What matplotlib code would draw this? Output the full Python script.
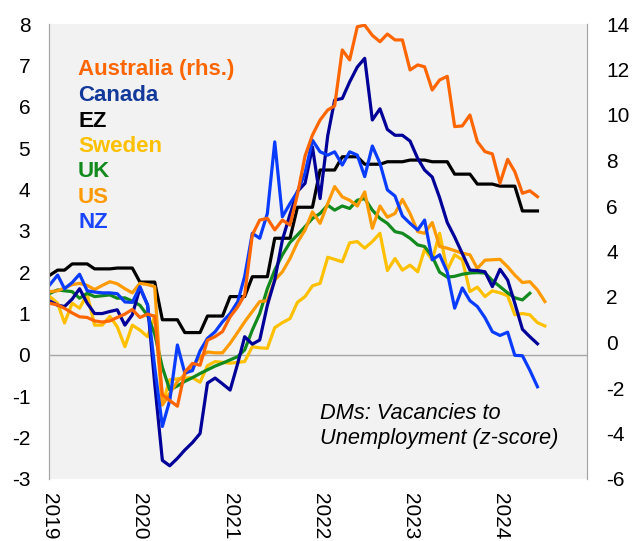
import matplotlib
matplotlib.use("Agg")
import matplotlib.pyplot as plt
import pandas as pd
from datetime import datetime

plt.rcParams['font.family'] = ['Liberation Sans', 'DejaVu Sans']
plt.rcParams['axes.unicode_minus'] = False

# monthly z-scores, Jan 2019 onwards
australia = [1.72, 1.65, 1.5, 1.3, 1.13, 1.1, 0.95, 0.9, 0.95, 1.1, 1.25, 1.45, 1.1, 1.25, 1.15,
             -2.3, -2.55, -2.8, -1.3, -0.92, -1.0, 0.1, 0.26, 0.48, 1.13, 1.57, 2.1,
             4.73, 5.38, 5.46, 4.95, 5.38, 5.16, 6.5, 8.2, 9.12, 9.78, 10.22, 10.4,
             12.86, 12.42, 13.88, 13.95, 13.5, 13.22, 13.56, 13.3, 13.3, 11.98, 12.2, 12.12,
             11.1, 11.54, 11.7, 9.49, 9.52, 10.0, 8.83, 8.39, 8.29, 7.0, 8.05, 7.51, 6.56, 6.67, 6.41]
canada = [1.3, 1.2, 1.17, 1.35, 1.6, 1.25, 1.0, 1.0, 1.05, 1.09, 0.72, 0.97, 1.62, 1.21, -0.7,
          -2.55, -2.68, -2.5, -2.3, -2.12, -1.9, -0.68, -0.56, -0.7, -0.85, -0.2, 0.44,
          0.26, 0.36, 1.2, 1.81, 2.78, 3.4, 3.95, 4.15, 5.03, 3.78, 5.3, 6.16,
          6.2, 6.6, 6.96, 7.17, 5.68, 5.95, 5.45, 5.31, 5.31, 5.17, 4.75, 4.47,
          4.3, 3.8, 3.2, 2.85, 2.45, 2.05, 2.04, 2.01, 1.65, 2.07, 1.81, 1.25, 0.62, 0.44, 0.27]
ez = [1.93, 2.05, 2.05, 2.2, 2.2, 2.2, 2.08, 2.08, 2.08, 2.1, 2.1, 2.1, 1.76, 1.76, 1.76,
      0.85, 0.85, 0.85, 0.54, 0.54, 0.54, 0.94, 0.94, 0.94, 1.41, 1.41, 1.41,
      1.89, 1.89, 1.89, 2.82, 2.82, 2.82, 3.57, 3.57, 3.57, 4.47, 4.47, 4.47,
      4.79, 4.79, 4.79, 4.61, 4.61, 4.61, 4.67, 4.67, 4.67, 4.71, 4.71, 4.71,
      4.67, 4.67, 4.67, 4.37, 4.37, 4.37, 4.13, 4.13, 4.13, 4.08, 4.08, 4.08, 3.48, 3.48, 3.48]
sweden = [1.41, 1.25, 0.77, 1.25, 1.13, 1.47, 0.72, 0.72, 0.93, 0.68, 0.2, 0.72, 0.6, 0.44, 0.95,
          -1.2, -0.6, -0.58, -0.56, -0.55, -0.66, -0.26, -0.16, -0.18, -0.2, -0.18, -0.16,
          0.2, 0.17, 0.16, 0.66, 0.78, 0.88, 1.27, 1.41, 1.67, 1.73, 2.36, 2.31,
          2.25, 2.71, 2.74, 2.58, 2.74, 2.94, 2.04, 2.33, 2.05, 2.17, 2.01, 2.55,
          2.3, 2.94, 2.05, 2.42, 2.3, 1.53, 1.64, 1.41, 1.55, 1.5, 1.43, 0.97, 1.0, 0.97, 0.78, 0.7]
uk = [1.49, 1.57, 1.55, 1.53, 1.37, 1.49, 1.41, 1.43, 1.45, 1.37, 1.38, 1.3, 1.2, 0.95, 0.5,
      -0.3, -0.85, -0.75, -0.64, -0.55, -0.45, -0.36, -0.27, -0.2, -0.12, -0.04, 0.12,
      0.6, 1.0, 1.6, 2.05, 2.42, 2.72, 2.9, 3.1, 3.3, 3.42, 3.62, 3.5,
      3.6, 3.54, 3.74, 3.78, 3.5, 3.3, 3.18, 2.98, 2.94, 2.82, 2.66, 2.62,
      2.38, 2.0, 1.88, 1.9, 1.95, 1.98, 1.99, 1.98, 1.8, 1.65, 1.5, 1.38, 1.33, 1.49]
us = [1.53, 1.55, 1.62, 1.7, 1.73, 1.68, 1.58, 1.68, 1.77, 1.72, 1.6, 1.5, 1.73, 1.7, 1.65,
      -1.21, -0.93, -0.64, -0.48, -0.28, -0.05, 0.07, 0.05, 0.05, 0.28, 0.55, 0.8,
      1.05, 1.29, 1.31, 1.81, 2.01, 2.33, 2.72, 3.02, 3.46, 3.18, 3.66, 4.07,
      3.82, 3.74, 3.6, 3.94, 3.06, 3.6, 3.33, 3.42, 3.76, 3.42, 2.98, 2.94,
      3.2, 2.62, 2.58, 2.52, 2.46, 2.42, 2.09, 2.29, 2.3, 2.31, 2.13, 1.93, 1.75, 1.77, 1.57, 1.29]
nz = [1.7, 1.93, 1.6, 1.75, 1.95, 1.55, 1.52, 1.5, 1.5, 1.48, 1.28, 1.27, 1.65, 1.2, -0.3,
      -1.73, -1.1, 0.24, -0.44, -0.38, 0.1, 0.4, 0.56, 0.8, 1.0, 1.29, 1.9,
      2.94, 2.82, 3.42, 5.15, 3.34, 3.66, 3.94, 4.4, 5.19, 4.91, 4.83, 4.91,
      4.59, 4.91, 4.83, 4.31, 5.05, 4.63, 3.99, 3.84, 3.36, 3.18, 3.02, 3.26,
      2.3, 2.42, 2.0, 1.13, 1.62, 1.31, 1.17, 0.9, 0.56, 0.47, 0.55, -0.01, -0.02, -0.37, -0.77]

years = [2019, 2020, 2021, 2022, 2023, 2024]


def dates(vals):
    return pd.date_range('2019-01-01', periods=len(vals), freq='MS')


fig = plt.figure(figsize=(6.33, 5.41), dpi=100)
ax1 = fig.add_axes([49 / 633, 1 - 479 / 541, 538 / 633, 455 / 541])
ax1.set_facecolor('#F2F2F2')
ax2 = ax1.twinx()

lw = 2.3
ax1.axhline(0, color='#A6A6A6', lw=1, zorder=1)
ax1.plot(dates(ez), ez, color='black', lw=lw)
ax1.plot(dates(sweden), sweden, color='#FFC000', lw=lw)
ax1.plot(dates(uk), uk, color='#138A1E', lw=lw)
ax1.plot(dates(us), us, color='#FF9A00', lw=lw)
ax1.plot(dates(canada), canada, color='#000099', lw=lw)
ax1.plot(dates(nz), nz, color='#0A3CFF', lw=lw)
ax2.plot(dates(australia), australia, color='#FF6600', lw=lw)

ax1.set_ylim(-3, 8)
ax1.set_yticks(range(-3, 9))
ax2.set_ylim(-6, 14)
ax2.set_yticks(range(-6, 15, 2))
ax1.set_xlim(datetime(2018, 12, 28), datetime(2024, 12, 19))
ax1.set_xticks([datetime(y, 1, 1) for y in years])
ax1.set_xticklabels([str(y) for y in years], rotation=-90, ha='center', va='top')

for ax in (ax1, ax2):
    for s in ('top', 'bottom'):
        ax.spines[s].set_visible(False)
    for s in ('left', 'right'):
        ax.spines[s].set_color('#A6A6A6')
ax1.tick_params(axis='y', length=0, pad=13.5, labelsize=15)
ax1.tick_params(axis='x', length=0, pad=10, labelsize=15)
ax2.tick_params(axis='y', length=0, pad=14, labelsize=15)

labels = ['Australia (rhs.)', 'Canada', 'EZ', 'Sweden', 'UK', 'US', 'NZ']
label_colors = ['#FF6600', '#12389A', 'black', '#FFC000', '#138A1E', '#FF9A00', '#1A46FF']
ys = [0.899, 0.842, 0.785, 0.730, 0.675, 0.618, 0.563]
for lab, c, y in zip(labels, label_colors, ys):
    ax1.text(0.054, y, lab, transform=ax1.transAxes, color=c, fontsize=16,
             fontweight='bold', va='center', ha='left')

ax1.text(0.504, 0.131, 'DMs: Vacancies to', transform=ax1.transAxes,
         fontsize=15.7, style='italic', va='baseline', ha='left')
ax1.text(0.504, 0.077, 'Unemployment (z-score)', transform=ax1.transAxes,
         fontsize=15.7, style='italic', va='baseline', ha='left')

fig.savefig('out.png', dpi=100)
